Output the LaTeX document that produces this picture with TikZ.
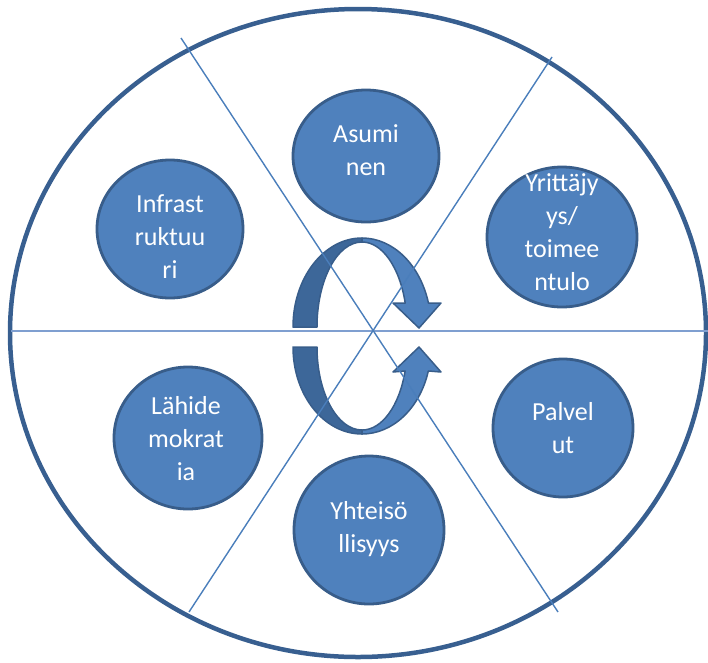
\documentclass[tikz,border=0pt]{standalone}
\usepackage{fontspec}
\setmainfont{Carlito}
\usetikzlibrary{shapes.geometric}
\definecolor{rimblue}{HTML}{385F90}
\definecolor{fillblue}{HTML}{4F81BD}
\definecolor{edgeblue}{HTML}{385D8A}
\definecolor{darkarrow}{HTML}{3D6799}
\definecolor{lineblue}{HTML}{4A7EBB}
\definecolor{hlineblue}{HTML}{7F9FD0}
\tikzset{
  bub/.style={ellipse, draw=edgeblue, line width=2.8pt, fill=fillblue,
    minimum width=148pt, minimum height=142pt, inner sep=0pt},
  lbl/.style={text=white, align=center, inner sep=0pt,
    font=\fontsize{26}{33}\selectfont},
  divline/.style={draw=lineblue, line width=1.4pt},
  hline/.style={draw=hlineblue, line width=1.4pt},
  arrowdark/.style={fill=darkarrow, draw=edgeblue, line width=1.5pt, line join=round},
  arrowlight/.style={fill=fillblue, draw=edgeblue, line width=1.5pt, line join=round}
}
\begin{document}
\begin{tikzpicture}[x=1pt,y=-1pt]
\useasboundingbox (0,0) rectangle (708,662);
% big circle
\draw[rimblue, line width=4.5pt] (358,333) ellipse [x radius=348, y radius=324];
% upper arrow
\path[arrowdark] (293,327) arc[start angle=180, end angle=270, x radius=69, y radius=89]
  -- (362,242) arc[start angle=270, end angle=180, x radius=45, y radius=85] -- cycle;
\path[arrowlight] (362,238) arc[start angle=270, end angle=344.4, x radius=69, y radius=89]
  -- (441,303) -- (419,328) -- (393,303) -- (405.2,303)
  arc[start angle=343.6, end angle=270, x radius=45, y radius=85] -- cycle;
% lower arrow
\path[arrowdark] (293,347) arc[start angle=180, end angle=90, x radius=69, y radius=87]
  -- (362,430) arc[start angle=90, end angle=180, x radius=45, y radius=83] -- cycle;
\path[arrowlight] (362,434) arc[start angle=90, end angle=16, x radius=69, y radius=87]
  -- (441,372) -- (419,347) -- (393,372) -- (405.1,371)
  arc[start angle=16.8, end angle=90, x radius=45, y radius=83] -- cycle;
% dividing lines
\coordinate (h1) at (11,331);
\coordinate (h2) at (708,331);
\coordinate (d1a) at (181,38);
\coordinate (d1b) at (558,612);
\coordinate (d2a) at (552,57);
\coordinate (d2b) at (189,612);
\draw[hline] (h1) -- (h2);
\draw[divline] (d1a) -- (d1b);
\draw[divline] (d2a) -- (d2b);
% bubbles
\node[bub, minimum width=146pt, minimum height=132pt] (c1) at (366,156) {};
\node[bub, minimum width=146pt, minimum height=138pt] (c2) at (170,229) {};
\node[bub, minimum width=150pt, minimum height=140pt] (c3) at (562,237) {};
\node[bub, minimum width=148pt, minimum height=142pt] (c4) at (188,438) {};
\node[bub, minimum width=140pt, minimum height=138pt] (c5) at (563,428) {};
\node[bub, minimum width=150pt, minimum height=148pt] (c6) at (369,530) {};
\node[lbl] (t1) at (366,150) {Asumi\\nen};
\node[lbl] (t2) at (170,237) {Infrast\\ruktuu\\ri};
\node[lbl] (t3) at (562,232) {Yrittäjy\\ys/\\toimee\\ntulo};
\node[lbl] (t4) at (186,439) {Lähide\\mokrat\\ia};
\node[lbl] (t5) at (563,428) {Palvel\\ut};
\node[lbl] (t6) at (369,529) {Yhteisö\\llisyys};
\end{tikzpicture}
\end{document}
